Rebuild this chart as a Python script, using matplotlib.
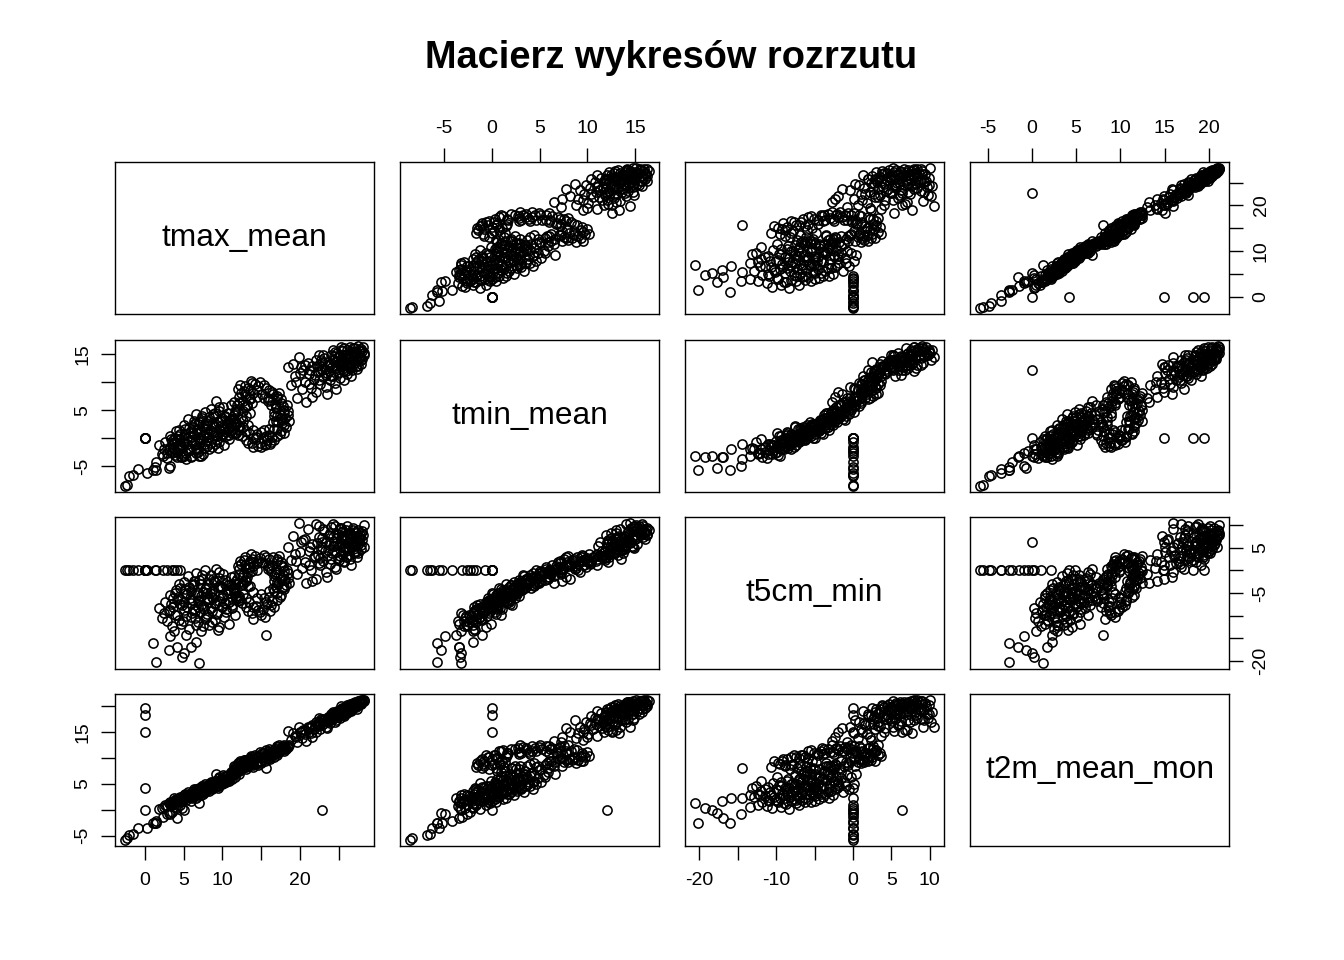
import numpy as np
import matplotlib
matplotlib.use('Agg')
import matplotlib.pyplot as plt

plt.rcParams['font.family'] = ['Liberation Sans', 'DejaVu Sans']

# --- data (read off the reference scatter matrix) ---
# cold months with t5cm_min recorded as 0
tmax_cold = [-2.6, -2.3, -2.0, -1.5, -0.9, 0.3, 1.3, 1.5, 2.3, 2.9, 3.5, 4.1, 4.5, 3.8]
tmin_cold = [-8.6, -8.3, -6.8, -6.5, -5.5, -6.3, -5.2, -4.2, -3.1, -2.6, -2.3, -2.0, -1.6, -0.7]
t5cm_cold = [0, 0, 0, 0, 0, 0, 0, 0, 0, 0, 0, 0, 0, 0]
t2m_cold = [-5.9, -5.5, -4.8, -4.6, -3.5, -3.5, -2.6, -2.2, -1.4, -0.9, -0.4, 0.3, 1.0, 2.2]

# records with zeros in place of missing values
tmax_odd = [0, 0, 0, 0, 0, 22.8]
tmin_odd = [0, 0, 0, 0, 0, 12.1]
t5cm_odd = [0, 0, 0, 0, 0, 6.4]
t2m_odd = [19.5, 18.2, 14.9, 4.2, 0.0, 0.0]

# strong ground frost
tmax_frost = [7.0, 1.5, 4.8, 3.1, 5.9, 4.2, 1.1, 6.6, 3.3, 15.6, 5.3, 3.8, 5.1]
tmin_frost = [-3.2, -5.7, -3.3, -5.3, -3.4, -3.4, -5.7, -2.0, -4.9, -1.0, -3.7, -2.0, -3.2]
t5cm_frost = [-20.6, -20.2, -19.2, -17.7, -17.0, -16.9, -16.0, -15.8, -14.5, -14.4, -14.4, -13.4, -18.3]
t2m_frost = [1.3, -2.6, 0.3, -0.7, 1.7, -1.6, -2.6, 2.3, -0.9, 8.1, 2.3, 0.5, 0.0]

# cool months
tmax_a = [1.8, 2.2, 2.6, 2.9, 3.1, 3.3, 3.5, 3.7, 3.9, 4.0,
          4.2, 4.4, 4.5, 4.7, 4.8, 5.0, 5.1, 5.3, 5.4, 5.6,
          5.7, 5.8, 6.0, 6.1, 6.2, 6.3, 6.5, 6.6, 6.7, 6.8,
          6.9, 7.0, 7.1, 7.2, 7.3, 7.4, 7.5, 7.6, 7.7, 7.8,
          7.9, 8.0, 8.1, 8.2, 8.3, 8.4, 8.5, 8.6, 8.7, 8.8,
          8.9, 9.0, 9.1, 9.2, 9.3, 9.4, 9.5, 9.6, 9.7, 9.8,
          9.9, 10.0, 10.1, 10.2, 10.3, 10.4, 10.5, 10.6, 10.7, 10.8,
          10.9, 11.0, 11.1, 11.2, 11.3, 11.5, 11.6, 11.8, 12.0, 12.2,
          5.2, 6.4, 7.5, 8.0, 4.6, 9.4, 3.4, 2.5, 6.9, 8.8]
tmin_a = [-1.2, -2.8, -0.6, -3.5, -1.9, 0.4, -2.6, -1.1, -3.0, 1.2,
          -0.3, -2.1, 0.8, -3.4, -1.5, 2.3, -0.8, -2.7, 0.1, 3.4,
          -1.9, 1.0, -0.4, -3.2, 2.0, 0.5, -1.3, 4.3, 1.5, -2.4,
          0.0, 2.8, -0.9, 1.1, -3.2, 3.6, 0.6, -1.7, 2.2, 4.6,
          -0.5, 1.7, 0.2, 3.0, -2.0, 1.4, 5.2, -0.2, 2.5, 0.9,
          3.9, -1.0, 1.9, 6.6, 0.4, 2.9, 4.8, -0.6, 1.3, 3.3,
          0.7, 2.4, 5.5, -1.2, 1.6, 3.7, 0.3, 2.6, 4.4, -0.1,
          1.8, 3.2, 5.9, 0.9, 2.1, 4.1, 1.0, 2.9, 4.9, 1.9,
          1.6, 3.1, -2.9, -1.4, -0.1, -1.8, -0.2, -2.0, 2.5, 4.3]
t5cm_a = [-8.3, -10.5, -7.0, -11.2, -9.0, -5.5, -12.3, -8.1, -9.8, -4.4,
          -6.6, -10.9, -3.9, -11.8, -7.7, -2.6, -8.8, -10.2, -5.2, -1.3,
          -12.9, -6.1, -7.3, -9.5, -3.3, -8.6, -10.6, -0.5, -4.8, -11.5,
          -6.8, -2.1, -9.2, -5.7, -13.4, -1.8, -7.9, -8.5, -4.1, 0.2,
          -10.0, -6.4, -7.1, -3.0, -12.0, -5.0, -1.0, -8.9, -4.6, -6.2,
          -2.4, -11.0, -7.5, 0.4, -9.6, -3.6, -1.6, -12.6, -5.4, -4.0,
          -8.0, -6.0, -0.8, -10.4, -7.2, -2.9, -9.3, -5.3, -3.2, -11.9,
          -6.9, -4.3, -1.5, -8.4, -7.6, -3.8, -9.9, -5.6, -2.7, -6.5,
          -4.2, -2.3, -12.4, -9.7, -6.3, -13.1, -7.4, -9.4, -5.1, -2.0]
t2m_a = [0.2, 0.4, 0.9, 0.7, 1.2, 1.5, 1.0, 1.6, 1.4, 2.0,
         1.9, 1.7, 2.4, 1.5, 2.1, 2.9, 2.3, 1.9, 2.8, 3.4,
         2.5, 3.0, 2.6, 2.2, 3.5, 3.1, 2.9, 4.0, 3.6, 2.7,
         3.3, 4.1, 3.2, 3.8, 2.8, 4.5, 3.7, 3.4, 4.3, 4.9,
         3.9, 4.2, 4.0, 4.8, 3.6, 4.5, 5.3, 4.2, 4.9, 4.6,
         5.4, 4.3, 5.0, 6.8, 4.7, 5.5, 6.1, 4.5, 5.2, 5.9,
         5.0, 5.7, 6.6, 5.1, 5.6, 6.3, 5.4, 6.0, 6.7, 5.5,
         6.2, 6.5, 7.3, 6.0, 6.6, 7.1, 6.3, 7.0, 7.6, 6.8,
         3.1, 3.9, 3.0, 3.8, 2.2, 4.1, 1.3, 0.5, 3.9, 5.3]

tmax_a2 = [3.2, 3.6, 4.1, 4.3, 4.6, 4.9, 5.2, 5.5, 5.7, 5.9,
           6.1, 6.3, 6.5, 6.7, 6.9, 7.1, 7.3, 7.5, 7.7, 7.9,
           8.1, 8.3, 8.5, 8.7, 8.9, 9.1, 9.3, 9.5, 9.7, 9.9,
           10.1, 10.3, 10.5, 10.7, 10.9, 11.1, 11.3, 11.5, 5.0, 6.0,
           7.0, 8.0, 9.0, 10.0, 4.4, 6.6, 8.6, 3.9, 7.4, 9.6]
tmin_a2 = [-1.6, -0.4, -2.4, 0.3, -1.2, -2.9, 0.7, -1.0, 1.8, -2.2,
           0.2, 2.6, -0.7, 1.0, -1.9, 3.1, 0.1, 1.9, -1.1, 2.7,
           0.8, 3.8, -0.9, 1.2, 2.2, 4.4, -0.3, 1.6, 3.0, 0.4,
           2.0, 4.0, 1.1, 2.8, 0.5, 3.5, 1.4, 2.5, -0.5, 1.3,
           -0.2, 2.3, 0.6, 3.6, 1.5, -2.6, -1.6, 0.0, 4.0, 5.6]
t5cm_a2 = [-8.7, -6.2, -9.9, -5.8, -7.4, -11.1, -4.9, -8.2, -3.6, -10.3,
           -6.6, -2.9, -9.1, -5.4, -8.0, -3.1, -7.6, -4.7, -10.8, -3.9,
           -6.0, -1.9, -8.3, -5.9, -5.0, -2.5, -9.4, -6.7, -3.4, -7.8,
           -5.5, -2.2, -8.6, -4.4, -7.0, -3.0, -6.2, -4.9, -6.9, -4.5,
           -6.5, -4.9, -7.3, -3.7, -3.1, -12.1, -11.4, -5.0, -0.9, -0.3]
t2m_a2 = [1.1, 1.5, 1.6, 2.1, 1.9, 1.8, 2.7, 2.4, 3.1, 2.5,
          3.0, 3.7, 2.9, 3.5, 3.1, 4.2, 3.6, 4.0, 3.5, 4.5,
          4.3, 5.0, 4.1, 4.7, 5.0, 5.6, 4.6, 5.3, 5.7, 5.2,
          5.8, 6.4, 5.6, 6.2, 5.9, 6.8, 6.4, 6.9, 2.3, 3.2,
          3.6, 4.4, 4.9, 6.0, 2.3, 2.8, 4.0, 1.7, 4.6, 6.3]

# transition months
tmax_b = [18.1, 18.4, 17.8, 17.5, 17.0, 16.4, 15.6, 14.6, 13.7, 13.3,
          12.8, 12.2, 12.6, 11.9, 11.6, 11.4, 11.8, 12.1, 12.5, 13.0,
          13.8, 14.6, 15.5, 16.3, 17.0, 17.6, 18.0, 18.6, 17.4, 16.9,
          16.2, 15.1, 14.0, 13.5, 12.9, 12.4, 12.7, 13.4, 14.3, 15.2,
          16.0, 16.7, 17.2, 17.8, 18.3, 17.3, 14.9, 12.0, 11.5, 11.7,
          14.0, 16.1, 17.9, 13.2, 16.6, 15.9, 13.6, 12.3, 15.4, 16.8]
tmin_b = [3.6, 4.9, 5.7, 6.9, 7.6, 8.3, 8.9, 9.3, 10.2, 9.0,
          8.4, 7.4, 6.6, 5.9, 4.6, 3.5, 2.5, 1.4, 0.4, -0.3,
          -0.9, -1.4, -1.2, -0.6, 0.3, 1.2, 2.4, 3.0, 4.2, 5.3,
          6.8, 7.9, 8.1, 7.2, 5.6, 3.7, 2.0, 0.9, 0.2, 0.0,
          0.5, 1.7, 2.8, 3.3, 6.0, 8.0, 10.0, 8.8, 6.5, 1.0,
          -1.6, -1.0, 1.0, 6.0, 4.0, 7.2, 4.4, 9.5, 1.5, 6.1]
t5cm_b = [-2.1, -0.6, 0.8, 1.9, 2.6, 1.2, 3.0, 2.2, 3.7, 1.5,
          2.4, 0.3, -0.9, -1.8, -2.9, -3.8, -4.9, -6.0, -7.3, -8.2,
          -9.5, -8.8, -10.3, -7.7, -6.5, -5.4, -3.7, -2.7, -1.4, -0.3,
          0.5, 1.8, 0.9, -0.4, -2.2, -3.3, -5.2, -6.9, -7.8, -8.6,
          -5.9, -4.5, -3.0, -1.0, 0.2, 3.3, 2.8, 1.0, -1.2, -6.4,
          -10.7, -9.1, -4.2, -1.5, -2.4, 0.4, -3.5, 2.0, -6.2, -0.8]
t2m_b = [11.8, 12.1, 12.3, 11.9, 12.2, 11.4, 11.5, 10.4, 10.4, 9.5,
         9.5, 8.5, 9.1, 8.0, 8.2, 7.4, 7.9, 7.5, 8.1, 7.8,
         8.8, 8.7, 9.4, 10.5, 10.6, 11.5, 11.6, 12.4, 11.3, 11.7,
         11.0, 10.9, 9.8, 9.9, 8.7, 8.5, 8.0, 8.7, 8.8, 9.8,
         9.9, 11.0, 11.1, 12.0, 12.3, 12.4, 11.2, 9.0, 8.4, 7.2,
         8.3, 9.7, 11.3, 9.4, 10.8, 11.4, 9.0, 9.3, 10.1, 11.7]

tmax_b2 = [12.4, 12.9, 13.5, 14.2, 13.0, 12.1, 11.7, 11.5, 12.0, 13.3,
           15.0, 16.6, 17.4, 18.2, 18.5, 18.0, 17.6, 17.1, 16.5, 17.7,
           17.1, 16.4, 15.8, 14.8, 13.9, 16.0, 15.3, 13.8, 12.6, 18.0,
           17.5, 12.2, 14.4, 16.9, 13.1,
           13.0, 13.2, 13.6, 14.4, 15.4, 16.3, 16.7, 16.5, 16.0, 15.0,
           14.0, 13.3, 13.8, 15.9, 12.6, 17.0, 14.5, 12.9, 16.9, 15.6]
tmin_b2 = [8.0, 9.3, 8.6, 9.6, 7.6, 6.2, 5.2, 2.9, 0.6, -0.8,
           -1.5, -0.3, 0.8, 2.0, 4.2, 5.1, 6.3, 7.1, 7.8, 2.7,
           1.6, 0.2, -0.4, -0.8, 0.0, 8.6, 9.4, 9.8, 4.8, 4.5,
           3.6, 2.1, 8.6, 3.1, 1.3,
           4.0, 5.8, 7.0, 7.3, 7.1, 6.0, 4.6, 2.8, 1.6, 1.1,
           1.4, 2.4, 6.2, 6.7, 3.0, 3.9, 0.8, 7.8, 5.7, 0.4]
t5cm_b2 = [1.4, 2.9, 2.0, 3.2, 0.6, -0.7, -2.4, -4.4, -6.8, -8.9,
           -9.8, -8.0, -5.9, -3.3, -1.7, -0.2, 1.1, 2.2, 3.0, -4.0,
           -5.1, -6.8, -7.4, -9.2, -8.1, 2.6, 3.5, 2.5, -2.6, -2.2,
           -1.9, -5.6, 1.6, -3.6, -6.1,
           -2.3, -0.6, 0.8, 0.1, 1.6, -0.1, -1.2, -3.9, -4.6, -5.3,
           -4.8, -3.5, -0.2, 1.0, -3.0, -2.6, -6.0, 1.2, 0.3, -7.0]
t2m_b2 = [9.2, 9.4, 9.9, 10.6, 9.1, 8.6, 7.9, 7.8, 7.4, 8.4,
          9.0, 10.2, 11.3, 11.6, 12.2, 12.4, 11.9, 12.1, 11.3, 11.8,
          10.9, 10.6, 10.1, 9.4, 8.6, 11.6, 10.9, 10.2, 8.4, 11.9,
          11.5, 8.1, 10.2, 11.0, 8.2,
          8.9, 9.0, 9.7, 10.0, 10.9, 11.0, 11.4, 10.7, 10.5, 9.4,
          9.2, 8.5, 9.4, 11.2, 8.5, 11.1, 9.1, 9.5, 11.3, 10.0]

# summer months
tmax_c = [18.4, 18.9, 19.3, 19.6, 19.9, 20.2, 20.4, 20.6, 20.8, 21.0,
          21.2, 21.4, 21.6, 21.8, 22.0, 22.1, 22.3, 22.5, 22.6, 22.8,
          23.0, 23.1, 23.3, 23.4, 23.6, 23.7, 23.9, 24.0, 24.1, 24.3,
          24.4, 24.5, 24.7, 24.8, 24.9, 25.0, 25.1, 25.2, 25.3, 25.4,
          25.5, 25.6, 25.7, 25.8, 25.9, 26.0, 26.1, 26.2, 26.3, 26.4,
          26.5, 26.6, 26.7, 26.8, 26.9, 27.0, 27.1, 27.2, 27.3, 27.4,
          27.5, 27.6, 27.7, 27.8, 27.9, 28.0, 28.2, 28.3, 23.5, 21.5,
          24.6, 22.7, 25.7, 19.1, 20.0, 26.6, 27.4, 24.2, 22.4, 25.3]
tmin_c = [12.6, 9.5, 11.0, 7.2, 14.5, 8.8, 12.2, 10.1, 6.5, 13.4,
          11.5, 9.0, 12.8, 10.6, 14.0, 8.2, 11.8, 13.1, 9.7, 12.4,
          10.9, 14.3, 11.3, 9.2, 13.6, 12.0, 10.3, 14.8, 12.7, 11.1,
          13.9, 9.9, 12.5, 15.2, 11.7, 13.3, 14.6, 10.8, 12.9, 15.5,
          11.9, 13.8, 12.2, 14.9, 13.0, 11.4, 15.8, 14.1, 12.6, 16.2,
          13.5, 14.7, 12.1, 15.3, 13.7, 14.4, 16.0, 12.8, 15.0, 13.9,
          16.5, 14.5, 15.6, 13.2, 15.9, 14.2, 15.1, 14.8, 7.8, 7.4,
          8.7, 13.9, 10.4, 13.3, 11.7, 11.0, 12.3, 15.7, 14.9, 16.3]
t5cm_c = [5.3, 2.4, 3.6, -0.8, 10.6, 0.6, 6.8, 1.8, -2.7, 9.1,
          4.2, 0.1, 5.9, 2.9, 10.2, -1.9, 3.5, 7.4, 1.1, 5.1,
          2.2, 8.8, 6.2, -0.4, 4.6, 7.9, 1.5, 9.6, 3.9, 5.5,
          6.6, 0.8, 8.2, 7.1, 2.7, 5.7, 9.3, 3.1, 6.9, 8.5,
          4.4, 7.6, 1.9, 5.0, 8.9, 3.3, 9.9, 6.3, 4.9, 8.0,
          2.5, 7.3, 5.8, 9.4, 3.8, 6.5, 8.6, 4.1, 7.0, 5.4,
          9.0, 6.1, 7.8, 4.7, 8.3, 6.7, 10.0, 5.2, -1.4, -2.3,
          0.3, 4.8, 2.0, 7.7, 4.0, 1.3, 3.0, 10.3, 9.8, 9.5]
t2m_c = [15.1, 13.4, 14.2, 13.0, 15.9, 13.9, 15.3, 14.6, 13.2, 16.0,
         15.7, 14.8, 16.4, 15.5, 16.9, 14.9, 16.2, 16.8, 15.6, 17.0,
         16.6, 17.5, 17.1, 16.0, 17.8, 17.3, 16.7, 18.4, 17.9, 17.5,
         18.6, 16.9, 18.2, 19.0, 17.8, 18.7, 19.2, 17.6, 18.9, 19.6,
         18.3, 19.3, 18.5, 19.8, 19.1, 18.6, 20.1, 19.7, 19.0, 20.4,
         19.5, 20.0, 19.3, 20.6, 19.9, 20.3, 20.8, 19.7, 20.5, 20.2,
         21.0, 20.7, 20.9, 20.4, 21.1, 20.8, 21.2, 20.9, 15.8, 14.1,
         17.2, 17.4, 18.0, 14.7, 15.0, 19.1, 19.4, 18.8, 17.6, 19.9]

tmax_c2 = [22.2, 22.9, 23.2, 23.8, 24.2, 24.6, 24.9, 25.1, 25.4, 25.6,
           25.8, 26.0, 26.2, 26.4, 26.5, 26.7, 26.9, 27.1, 27.2, 27.4,
           27.6, 27.8, 28.0, 23.5, 24.0, 24.7, 25.3, 25.9, 26.3, 26.8,
           27.5, 21.3, 21.9, 22.5, 20.7, 20.1, 19.5, 21.1, 23.0, 24.5,
           25.7, 26.1, 27.0, 27.7, 28.1, 22.6, 23.9, 25.0, 26.6, 24.4]
tmin_c2 = [12.9, 13.6, 12.3, 13.2, 14.0, 12.8, 14.4, 13.5, 12.4, 14.9,
           13.6, 15.0, 12.9, 14.3, 15.6, 13.9, 14.8, 13.4, 15.4, 14.6,
           15.8, 14.0, 15.5, 11.6, 11.0, 13.7, 15.7, 12.0, 13.2, 16.1,
           12.9, 12.1, 11.2, 10.4, 13.0, 12.6, 10.0, 9.6, 14.8, 15.4,
           16.0, 13.0, 15.2, 14.3, 16.2, 11.9, 13.0, 11.8, 12.5, 14.7]
t5cm_c2 = [6.0, 7.2, 4.3, 5.6, 7.5, 4.0, 8.1, 6.0, 3.6, 8.7,
           5.3, 7.4, 4.5, 6.8, 8.4, 5.1, 7.7, 4.4, 8.2, 6.3,
           7.5, 5.6, 8.8, 3.2, 2.6, 6.1, 9.2, 2.9, 3.5, 9.0,
           3.8, 5.2, 3.3, 1.6, 7.0, 6.4, 2.2, 1.2, 9.2, 9.9,
           6.9, 6.0, 5.9, 7.1, 7.9, 2.8, 8.4, 2.4, 7.2, 5.4]
t2m_c2 = [16.5, 17.2, 17.4, 17.6, 18.3, 18.0, 18.9, 18.5, 18.8, 19.4,
          19.0, 19.6, 19.2, 19.9, 20.2, 19.6, 20.1, 20.0, 20.6, 20.4,
          20.9, 20.6, 21.0, 16.9, 17.4, 18.4, 19.3, 18.8, 19.3, 20.3,
          20.1, 15.9, 16.1, 16.3, 15.4, 14.9, 14.0, 14.9, 17.3, 18.5,
          19.5, 19.4, 20.4, 20.7, 21.1, 16.6, 17.7, 18.2, 19.8, 18.4]

tmax_mean = (tmax_cold + tmax_odd + tmax_frost + tmax_a + tmax_a2
             + tmax_b + tmax_b2 + tmax_c + tmax_c2)
tmin_mean = (tmin_cold + tmin_odd + tmin_frost + tmin_a + tmin_a2
             + tmin_b + tmin_b2 + tmin_c + tmin_c2)
t5cm_min = (t5cm_cold + t5cm_odd + t5cm_frost + t5cm_a + t5cm_a2
            + t5cm_b + t5cm_b2 + t5cm_c + t5cm_c2)
t2m_mean_mon = (t2m_cold + t2m_odd + t2m_frost + t2m_a + t2m_a2
                + t2m_b + t2m_b2 + t2m_c + t2m_c2)

names = ['tmax_mean', 'tmin_mean', 't5cm_min', 't2m_mean_mon']
columns = [np.array(tmax_mean), np.array(tmin_mean), np.array(t5cm_min), np.array(t2m_mean_mon)]

tick_values = [
    [0, 5, 10, 15, 20, 25],
    [-5, 0, 5, 10, 15],
    [-20, -15, -10, -5, 0, 5, 10],
    [-5, 0, 5, 10, 15, 20],
]
# R drops labels that would overlap, so some ticks stay unlabelled
tick_labels = {
    (0, 'bottom'): ['0', '5', '10', '', '20', ''],
    (0, 'right'): ['0', '', '10', '', '20', ''],
    (1, 'top'): ['-5', '0', '5', '10', '15'],
    (1, 'left'): ['-5', '', '5', '', '15'],
    (2, 'bottom'): ['-20', '', '-10', '', '0', '5', '10'],
    (2, 'right'): ['-20', '', '', '-5', '', '5', ''],
    (3, 'top'): ['-5', '0', '5', '10', '15', '20'],
    (3, 'left'): ['-5', '', '5', '', '15', ''],
}


def padded_range(v):
    lo, hi = v.min(), v.max()
    pad = 0.04 * (hi - lo)
    return lo - pad, hi + pad


limits = [padded_range(v) for v in columns]

W, H = 1344, 960
lefts = [115, 400, 685, 970]
tops = [162, 340, 517, 694]
pw, ph = 259, 152

fig = plt.figure(figsize=(W / 100, H / 100), dpi=100)
fig.text(671 / W, 1 - 58 / H, 'Macierz wykresów rozrzutu', fontsize=27.4,
         fontweight='bold', ha='center', va='center')

tick_kw = dict(length=10, width=1, labelsize=14, direction='out')

for i in range(4):
    for j in range(4):
        ax = fig.add_axes([lefts[j] / W, 1 - (tops[i] + ph) / H, pw / W, ph / H])
        ax.set_xlim(limits[j])
        ax.set_ylim(limits[i])
        for sp in ax.spines.values():
            sp.set_linewidth(1.0)
        if i == j:
            ax.text(0.5, 0.5, names[i], transform=ax.transAxes, ha='center',
                    va='center', fontsize=22.8)
        else:
            ax.plot(columns[j], columns[i], 'o', mfc='none', mec='black',
                    ms=6.6, mew=1.15, linestyle='none')

        ax.set_xticks([])
        ax.set_yticks([])

        # outer axes alternate like R's pairs()
        if i == 0 and j % 2 == 1:
            ax.set_xticks(tick_values[j])
            ax.set_xticklabels(tick_labels[(j, 'top')])
            ax.tick_params(axis='x', top=True, bottom=False, labeltop=True,
                           labelbottom=False, pad=8, **tick_kw)
        if i == 3 and j % 2 == 0:
            ax.set_xticks(tick_values[j])
            ax.set_xticklabels(tick_labels[(j, 'bottom')])
            ax.tick_params(axis='x', pad=9, **tick_kw)
        if j == 0 and i % 2 == 1:
            ax.set_yticks(tick_values[i])
            ax.set_yticklabels(tick_labels[(i, 'left')], rotation=90, va='center')
            ax.tick_params(axis='y', pad=7, **tick_kw)
        if j == 3 and i % 2 == 0:
            ax.set_yticks(tick_values[i])
            ax.set_yticklabels(tick_labels[(i, 'right')], rotation=90, va='center')
            ax.tick_params(axis='y', left=False, right=True, labelleft=False,
                           labelright=True, pad=7, **tick_kw)

fig.savefig('out.png', dpi=100)
